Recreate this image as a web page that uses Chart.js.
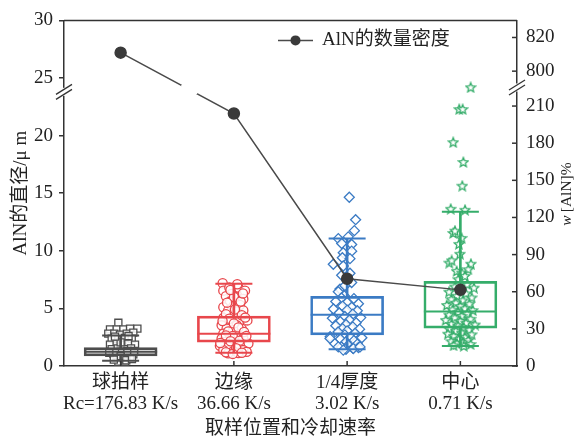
<!DOCTYPE html>
<html><head><meta charset="utf-8">
<script src="https://cdn.jsdelivr.net/npm/chart.js@4.4.1/dist/chart.umd.min.js"></script>
<style>html,body{margin:0;padding:0;background:#fff}#wrap{width:576px;height:442px}</style>
</head><body><div id="wrap"><canvas id="c" width="576" height="442"></canvas></div>
<script>
// ---------------- data ----------------
const CATEGORIES = [['球拍样','Rc=176.83 K/s'],['边缘','36.66 K/s'],['1/4厚度','3.02 K/s'],['中心','0.71 K/s']];
const LEFT_TICKS = [0,5,10,15,20,25,30];
const RIGHT_TICKS = [0,30,60,90,120,150,180,210,800,820];
const DENSITY = [811, 204, 70.5, 61.5];           // AlN number density (right axis)
const Q1       = [0.88, 2.07, 2.70, 3.29];
const MEDIAN   = [1.23, 2.80, 4.45, 4.74];
const Q3       = [1.60, 4.33, 6.05, 7.34];
const WHISK_LO = [0.45, 1.15, 1.46, 1.73];
const WHISK_HI = [2.65, 7.15, 11.07, 13.38];
// individual particle diameters: [jittered category position, diameter]
const PTS_RACKET = [[0.98,3.75],[0.906,3.18],[0.965,3.18],[1.024,3.18],[1.083,3.24],[1.148,3.24],[0.891,2.81],[0.944,2.81],[0.994,2.72],[1.054,2.81],[1.112,2.9],[0.921,2.38],[0.98,2.32],[1.039,2.44],[1.098,2.38],[0.906,1.86],[0.965,1.95],[1.015,1.86],[1.068,1.95],[1.127,1.86],[0.921,1.47],[0.974,1.52],[1.033,1.47],[1.092,1.52],[0.935,1.09],[0.994,1.01],[1.054,1.09],[1.112,1.01],[0.965,0.66],[1.024,0.66],[1.083,0.72],[0.98,0.37],[1.039,0.37],[1.0,1.25],[1.06,1.3],[0.95,1.2],[1.12,1.3],[0.9,1.15],[1.0,0.85],[1.05,0.5],[0.94,0.55],[1.1,0.6],[1.0,2.05],[0.95,2.55],[1.07,2.6]];
const PTS_EDGE = [[1.901,7.19],[1.907,6.54],[1.96,6.82],[2.039,6.82],[2.098,6.54],[1.98,6.25],[1.93,6.05],[2.025,5.96],[2.083,5.82],[1.966,5.59],[1.907,5.1],[1.995,5.19],[2.054,5.3],[1.95,4.82],[2.025,4.73],[2.083,4.82],[1.995,4.33],[1.907,4.16],[2.054,3.96],[2.119,3.96],[1.966,3.81],[1.892,3.53],[2.025,3.53],[1.936,3.24],[2.069,3.24],[1.995,3.1],[1.907,2.81],[2.039,2.72],[1.892,2.38],[1.966,2.44],[2.083,2.38],[1.922,2.09],[2.01,1.95],[2.128,1.95],[1.877,1.75],[1.95,1.66],[2.054,1.75],[1.907,1.38],[1.995,1.29],[2.083,1.38],[1.95,1.1],[2.039,1.12],[2.113,1.23],[2.0,6.0],[1.94,5.5],[2.06,5.6],[2.01,4.9],[1.93,4.5],[2.07,4.4],[1.96,4.1],[2.1,4.2],[1.9,3.9],[2.0,3.7],[2.04,3.35],[1.95,3.0],[2.09,2.95],[1.99,2.6],[1.93,2.65],[2.05,2.2],[1.97,2.15],[2.11,2.6],[1.88,2.0],[2.02,1.55],[1.93,1.2],[2.07,1.15],[1.99,1.05],[2.03,7.1],[1.97,6.6],[2.08,6.3]];
const PTS_QUARTER = [[3.019,14.65],[3.075,12.7],[3.064,11.75],[2.922,11.06],[3.01,11.21],[2.952,10.63],[3.04,10.55],[2.966,9.83],[3.04,9.97],[2.958,9.4],[3.025,9.32],[2.878,8.83],[2.966,8.68],[2.952,7.88],[3.025,8.05],[2.937,6.68],[2.98,6.96],[3.04,7.25],[2.922,6.45],[2.975,6.1],[2.95,5.9],[3.06,5.85],[2.9,5.6],[3.0,5.5],[3.1,5.4],[2.96,5.2],[3.04,5.1],[2.88,4.95],[3.0,4.85],[3.09,4.8],[2.93,4.6],[3.05,4.5],[2.98,4.3],[3.12,4.2],[2.87,4.15],[3.02,4.0],[2.94,3.85],[3.08,3.75],[2.99,3.6],[2.9,3.5],[3.05,3.4],[2.96,3.25],[3.11,3.2],[3.0,3.05],[2.92,2.95],[3.07,2.85],[2.98,2.7],[2.85,2.55],[3.03,2.5],[3.13,2.45],[2.94,2.35],[3.06,2.2],[2.99,2.1],[2.89,1.95],[3.09,1.9],[3.01,1.8],[2.95,1.65],[3.05,1.55],[2.99,1.45],[3.1,1.6],[2.849,2.38],[2.922,1.66],[2.966,1.38],[3.055,1.52],[3.114,1.66]];
const PTS_CENTER = [[4.091,24.2],[3.99,22.3],[4.02,22.3],[3.937,19.43],[4.026,17.71],[4.017,15.65],[3.915,13.65],[4.041,13.56],[3.937,11.55],[3.952,11.75],[4.011,11.12],[3.987,10.6],[3.996,9.74],[3.902,8.97],[3.923,9.17],[4.093,8.88],[4.07,8.4],[3.967,8.25],[4.011,8.11],[3.981,7.54],[4.04,7.82],[4.06,7.1],[3.95,6.9],[4.12,6.8],[3.99,6.6],[3.9,6.45],[4.05,6.3],[3.97,6.1],[4.1,5.95],[3.92,5.8],[4.02,5.7],[3.96,5.5],[4.08,5.4],[3.88,5.3],[4.0,5.2],[4.04,5.0],[3.93,4.9],[4.11,4.85],[3.98,4.7],[4.06,4.55],[3.9,4.45],[4.01,4.35],[3.95,4.2],[4.09,4.1],[3.87,4.0],[4.0,3.9],[4.05,3.75],[3.92,3.65],[4.13,3.6],[3.98,3.5],[4.03,3.35],[3.9,3.25],[4.08,3.15],[3.96,3.05],[4.01,2.9],[3.89,2.8],[4.1,2.75],[3.94,2.6],[4.04,2.5],[3.99,2.35],[4.07,2.25],[3.92,2.15],[4.02,2.05],[3.97,1.95],[4.09,1.9],[3.94,1.8],[4.03,1.75]];

// ---------------- style ----------------
const COLORS = ['#4d4d4d','#e8474c','#3b7bc4','#35ad6a'];
const AXIS = '#333';
const FONT = "'Liberation Serif','Noto Sans CJK SC',serif";

// broken right axis: 0..210 linear, 800..820 compressed above the break
function toAxis(v){ return v <= 500 ? v : 238.2 + (v - 800) * 1.36; }
function fromAxis(a){ return a <= 230 ? a : 800 + (a - 238.2) / 1.36; }

function makeStar(color, size){
  const c = document.createElement('canvas'); c.width = c.height = size;
  const g = c.getContext('2d'); const cx = size/2, cy = size/2 + 0.5, R = size/2 - 1, r = R*0.45;
  g.beginPath();
  for (let i=0;i<10;i++){ const a=-Math.PI/2+i*Math.PI/5; const rr=i%2?r:R; g.lineTo(cx+rr*Math.cos(a), cy+rr*Math.sin(a)); }
  g.closePath(); g.fillStyle='#fff'; g.fill(); g.strokeStyle=color; g.lineWidth=1.3; g.stroke();
  return c;
}
const starImg = makeStar(COLORS[3], 12);

const idx = [0,1,2,3];
const xy = a => a.map(p => ({x:p[0], y:p[1]}));

const datasets = [
  {type:'scatter', data:xy(PTS_RACKET), pointStyle:'rect', pointRadius:5, borderColor:COLORS[0], backgroundColor:'rgba(255,255,255,0.85)', pointBorderWidth:1.3, order:10, yAxisID:'y'},
  {type:'scatter', data:xy(PTS_EDGE), pointStyle:'circle', pointRadius:4.6, borderColor:COLORS[1], backgroundColor:'rgba(255,255,255,0.85)', pointBorderWidth:1.3, order:10, yAxisID:'y'},
  {type:'scatter', data:xy(PTS_QUARTER), pointStyle:'rectRot', pointRadius:5, borderColor:COLORS[2], backgroundColor:'rgba(255,255,255,0.85)', pointBorderWidth:1.3, order:10, yAxisID:'y'},
  {type:'scatter', data:xy(PTS_CENTER), pointStyle:starImg, pointRadius:6, order:10, yAxisID:'y'},
  // boxes
  {type:'bar', data:idx.map(i=>({x:i+1, y:[Q1[i],Q3[i]]})), backgroundColor:'rgba(0,0,0,0)', borderColor:COLORS, borderWidth:2, borderSkipped:false, barThickness:73, grouped:false, order:4, yAxisID:'y'},
  // whiskers
  {type:'bar', data:idx.map(i=>({x:i+1, y:[Q3[i],WHISK_HI[i]]})), backgroundColor:COLORS, borderWidth:0, barThickness:2, grouped:false, order:4, yAxisID:'y'},
  {type:'bar', data:idx.map(i=>({x:i+1, y:[WHISK_LO[i],Q1[i]]})), backgroundColor:COLORS, borderWidth:0, barThickness:2, grouped:false, order:4, yAxisID:'y'},
  // medians
  {type:'scatter', data:idx.map(i=>({x:i+1, y:MEDIAN[i]})), pointStyle:'line', pointRadius:36.5, borderColor:COLORS, pointBorderWidth:2, order:3, yAxisID:'y'},
  // caps
  {type:'scatter', data:idx.map(i=>({x:i+1, y:WHISK_HI[i]})), pointStyle:'line', pointRadius:18.5, borderColor:COLORS, pointBorderWidth:2, order:3, yAxisID:'y'},
  {type:'scatter', data:idx.map(i=>({x:i+1, y:WHISK_LO[i]})), pointStyle:'line', pointRadius:18.5, borderColor:COLORS, pointBorderWidth:2, order:3, yAxisID:'y'},
  // density line
  {type:'line', label:'AlN的数量密度', data:idx.map(i=>({x:i+1, y:toAxis(DENSITY[i])})), borderColor:'#4a4a4a', borderWidth:1.5, pointRadius:5.5, pointBackgroundColor:'#3a3a3a', pointBorderColor:'#3a3a3a', order:1, yAxisID:'y2'}
];

const extras = {
  id:'extras',
  afterDraw(chart){
    const {ctx, chartArea:ca, scales} = chart;
    ctx.save();
    // gap in the density line where it crosses the axis break band
    const meta = chart.getDatasetMeta(datasets.length - 1);
    const p0 = meta.data[0], p1 = meta.data[1];
    const yb = scales.y2.getPixelForValue(225) + 2;
    const xb = p0.x + (yb - p0.y) / (p1.y - p0.y) * (p1.x - p0.x);
    ctx.fillStyle = '#fff'; ctx.fillRect(xb - 8, yb - 4.5, 16, 9);

    ctx.strokeStyle = AXIS; ctx.lineWidth = 1.5;
    // top frame
    ctx.beginPath(); ctx.moveTo(ca.left, ca.top); ctx.lineTo(ca.right, ca.top); ctx.stroke();
    // inward x ticks
    scales.x.ticks.forEach(t=>{ const px = scales.x.getPixelForValue(t.value); ctx.beginPath(); ctx.moveTo(px, ca.bottom); ctx.lineTo(px, ca.bottom-5); ctx.stroke(); });
    // inward right ticks
    scales.y2.ticks.forEach(t=>{ const py = scales.y2.getPixelForValue(t.value); ctx.beginPath(); ctx.moveTo(ca.right, py); ctx.lineTo(ca.right-5, py); ctx.stroke(); });
    // axis breaks
    const brk = (x, y) => {
      ctx.fillStyle = '#fff'; ctx.fillRect(x-3, y-4, 6, 8);
      ctx.strokeStyle = AXIS; ctx.lineWidth = 1.3;
      [-2.5, 2.5].forEach(d=>{ ctx.beginPath(); ctx.moveTo(x-8, y+d+5); ctx.lineTo(x+8, y+d-5); ctx.stroke(); });
    };
    brk(ca.left, scales.y.getPixelForValue(23.8)); brk(ca.right, scales.y2.getPixelForValue(225));
    // legend
    const ly = ca.top + 20;
    ctx.strokeStyle = '#4a4a4a'; ctx.lineWidth = 1.5;
    ctx.beginPath(); ctx.moveTo(278, ly); ctx.lineTo(313, ly); ctx.stroke();
    ctx.fillStyle = '#3a3a3a'; ctx.beginPath(); ctx.arc(295.5, ly, 5, 0, Math.PI*2); ctx.fill();
    ctx.fillStyle = '#222'; ctx.font = '19px ' + FONT; ctx.textBaseline = 'middle'; ctx.textAlign = 'left';
    ctx.fillText('AlN的数量密度', 322, ly);
    // right axis title (reads bottom-to-top)
    ctx.translate(566.5, 194); ctx.rotate(-Math.PI/2);
    ctx.textAlign = 'left'; ctx.textBaseline = 'middle';
    const t1 = 'w', t2 = '\u2009[AlN]%';
    ctx.font = 'italic 15.5px ' + FONT; const w1 = ctx.measureText(t1).width;
    ctx.font = '15.5px ' + FONT; const w2 = ctx.measureText(t2).width;
    const start = -(w1 + w2)/2;
    ctx.font = 'italic 15.5px ' + FONT; ctx.fillText(t1, start, 0);
    ctx.font = '15.5px ' + FONT; ctx.fillText(t2, start + w1, 0);
    ctx.restore();
  }
};

const fitV = w => s => { s.width = w; };

new Chart(document.getElementById('c'), {
  type:'scatter',
  data:{datasets},
  options:{
    responsive:false, animation:false, devicePixelRatio:1,
    layout:{autoPadding:false, padding:{top:17, left:0, right:0, bottom:0}},
    plugins:{legend:{display:false}, tooltip:{enabled:false}},
    scales:{
      x:{type:'linear', min:0.5, max:4.5, offset:false,
        afterBuildTicks: s => { s.ticks = CATEGORIES.map((c,i)=>({value:i+1})); },
        afterFit: s => { s.height = 76; },
        grid:{display:false, drawTicks:false},
        border:{display:true, color:AXIS, width:1.5},
        ticks:{padding:6, color:'#222', font:{family:FONT, size:19, lineHeight:1.14}, maxRotation:0, autoSkip:false,
          callback:(v)=> CATEGORIES[Math.round(v)-1]},
        title:{display:true, text:'取样位置和冷却速率', color:'#222', font:{family:FONT, size:19, lineHeight:1.2}, padding:{top:0,bottom:2}}
      },
      y:{type:'linear', position:'left', min:0, max:30,
        afterBuildTicks: s => { s.ticks = LEFT_TICKS.map(v=>({value:v})); },
        afterFit: fitV(64),
        grid:{drawOnChartArea:false, drawTicks:true, tickLength:5, color:AXIS, lineWidth:1.5},
        border:{display:true, color:AXIS, width:1.5},
        ticks:{padding:6, color:'#222', font:{family:FONT, size:19}},
        title:{display:true, text:'AlN的直径/μ m', color:'#222', font:{family:FONT, size:19, lineHeight:1.2}, padding:{top:10, bottom:0}}
      },
      y2:{type:'linear', position:'right', min:0, max:279.2,
        afterBuildTicks: s => { s.ticks = RIGHT_TICKS.map(v=>({value:toAxis(v)})); },
        afterFit: fitV(59),
        grid:{display:false, drawTicks:false},
        border:{display:true, color:AXIS, width:1.5},
        ticks:{padding:9, color:'#222', font:{family:FONT, size:19}, callback:(v)=> String(Math.round(fromAxis(v)))}
      }
    }
  },
  plugins:[extras]
});
</script></body></html>
